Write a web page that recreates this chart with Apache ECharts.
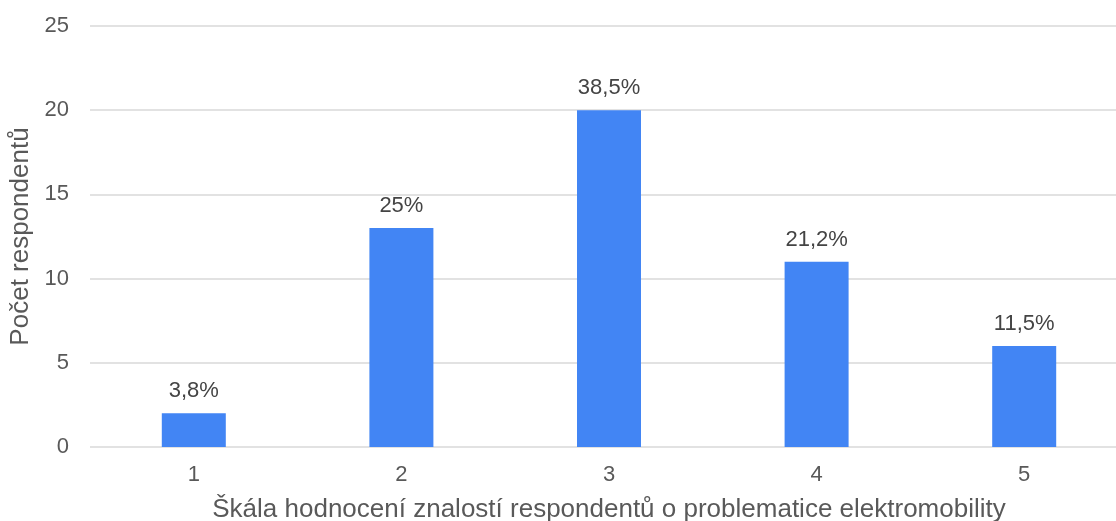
<!DOCTYPE html>
<html>
<head>
<meta charset="utf-8">
<script src="https://cdn.jsdelivr.net/npm/echarts@6/dist/echarts.min.js"></script>
<style>
  html, body { margin: 0; padding: 0; background: #fff; }
  #chart { width: 1116px; height: 521px; }
</style>
</head>
<body>
<div id="chart"></div>
<script>
// Knowledge rating scale (1–5) and number of respondents per rating
const categories = ['1', '2', '3', '4', '5'];
const respondents = [2, 13, 20, 11, 6];
const shareLabels = ['3,8%', '25%', '38,5%', '21,2%', '11,5%'];
const yTicks = { min: 0, max: 25, interval: 5 };

const fontFamily = '"Liberation Sans", Arial, sans-serif';
const chart = echarts.init(document.getElementById('chart'), null, { renderer: 'canvas' });

chart.setOption({
  animation: false,
  backgroundColor: '#ffffff',
  // the plot runs slightly past the right edge of the canvas
  grid: { left: 90, top: 26, width: 1038, height: 421, containLabel: false, outerBoundsMode: 'none' },
  xAxis: {
    type: 'category',
    data: categories,
    name: 'Škála hodnocení znalostí respondentů o problematice elektromobility',
    nameLocation: 'middle',
    nameGap: 50,
    nameTextStyle: { fontFamily, fontSize: 26, color: '#595959' },
    axisLine: { show: false },
    axisTick: { show: false },
    axisLabel: { fontFamily, fontSize: 22, color: '#595959', margin: 17 }
  },
  yAxis: {
    type: 'value',
    min: yTicks.min,
    max: yTicks.max,
    interval: yTicks.interval,
    name: 'Počet respondentů',
    nameLocation: 'middle',
    nameGap: 54,
    nameTextStyle: { fontFamily, fontSize: 26, color: '#595959' },
    axisLine: { show: false },
    axisTick: { show: false },
    axisLabel: { fontFamily, fontSize: 22, color: '#595959', margin: 21 },
    splitLine: { lineStyle: { color: '#d9d9d9', width: 1.6 } }
  },
  series: [{
    type: 'bar',
    data: respondents,
    barWidth: 64,
    itemStyle: { color: '#4285f4' },
    label: {
      show: true,
      position: 'top',
      distance: 11,
      fontFamily,
      fontSize: 22,
      color: '#444444',
      formatter: p => shareLabels[p.dataIndex]
    }
  }]
});
</script>
</body>
</html>
